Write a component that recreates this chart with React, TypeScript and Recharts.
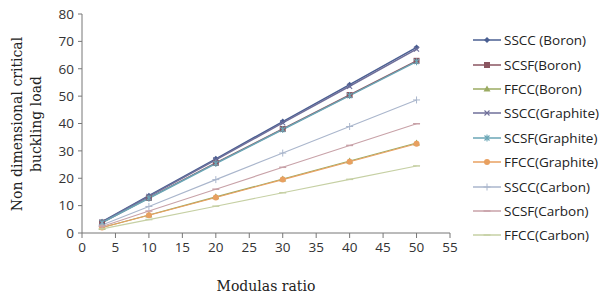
import { LineChart, Line, XAxis, YAxis, Label } from "recharts";

const ratios = [3, 10, 20, 30, 40, 50];

const ssccBoron = [4.1, 13.6, 27.1, 40.7, 54.2, 67.8];
const scsfBoron = [3.8, 12.8, 25.6, 38.0, 50.4, 62.9];
const ffccBoron = [2.0, 6.6, 13.2, 19.7, 26.3, 32.9];
const ssccGraphite = [4.0, 13.4, 26.7, 40.2, 53.6, 67.2];
const scsfGraphite = [3.8, 12.7, 25.4, 37.8, 50.2, 62.6];
const ffccGraphite = [2.0, 6.5, 13.0, 19.5, 26.0, 32.6];
const ssccCarbon = [2.9, 9.7, 19.5, 29.2, 38.9, 48.6];
const scsfCarbon = [2.4, 8.0, 16.0, 24.0, 32.0, 39.9];
const ffccCarbon = [1.5, 4.9, 9.8, 14.7, 19.6, 24.5];

const xTicks = [0, 5, 10, 15, 20, 25, 30, 35, 40, 45, 50, 55];
const yTicks = [0, 10, 20, 30, 40, 50, 60, 70, 80];

type Marker = "diamond" | "square" | "triangle" | "x" | "star" | "circle" | "plus" | "dash" | "none";

const series: { key: string; name: string; values: number[]; color: string; marker: Marker }[] = [
  { key: "sb", name: "SSCC (Boron)", values: ssccBoron, color: "#4a5f92", marker: "diamond" },
  { key: "fb", name: "SCSF(Boron)", values: scsfBoron, color: "#8a5560", marker: "square" },
  { key: "cb", name: "FFCC(Boron)", values: ffccBoron, color: "#9bab62", marker: "triangle" },
  { key: "sg", name: "SSCC(Graphite)", values: ssccGraphite, color: "#6f6f9a", marker: "x" },
  { key: "fg", name: "SCSF(Graphite)", values: scsfGraphite, color: "#6aa6b6", marker: "star" },
  { key: "cg", name: "FFCC(Graphite)", values: ffccGraphite, color: "#e8a060", marker: "circle" },
  { key: "sc", name: "SSCC(Carbon)", values: ssccCarbon, color: "#aab6cc", marker: "plus" },
  { key: "fc", name: "SCSF(Carbon)", values: scsfCarbon, color: "#c8a2a8", marker: "dash" },
  { key: "cc", name: "FFCC(Carbon)", values: ffccCarbon, color: "#c6d0a4", marker: "dash" },
];

const data = ratios.map((r, i) => {
  const row: Record<string, number> = { ratio: r };
  series.forEach((s) => (row[s.key] = s.values[i]));
  return row;
});

function markerShape(marker: Marker, color: string, cx: number, cy: number, k: string | number) {
  switch (marker) {
    case "diamond":
      return <path key={k} d={`M${cx},${cy - 3}L${cx + 3},${cy}L${cx},${cy + 3}L${cx - 3},${cy}Z`} fill={color} />;
    case "square":
      return <rect key={k} x={cx - 3} y={cy - 3} width={6} height={6} fill={color} />;
    case "triangle":
      return <path key={k} d={`M${cx},${cy - 3.5}L${cx + 3.5},${cy + 2.5}L${cx - 3.5},${cy + 2.5}Z`} fill={color} />;
    case "x":
      return (
        <path key={k} d={`M${cx - 2.5},${cy - 2.5}L${cx + 2.5},${cy + 2.5}M${cx + 2.5},${cy - 2.5}L${cx - 2.5},${cy + 2.5}`} stroke={color} strokeWidth={1.1} />
      );
    case "star":
      return (
        <path
          key={k}
          d={`M${cx - 2.5},${cy - 2.5}L${cx + 2.5},${cy + 2.5}M${cx + 2.5},${cy - 2.5}L${cx - 2.5},${cy + 2.5}M${cx},${cy - 3.5}L${cx},${cy + 3.5}`}
          stroke={color}
          strokeWidth={1.1}
        />
      );
    case "circle":
      return <circle key={k} cx={cx} cy={cy} r={3} fill={color} />;
    case "plus":
      return <path key={k} d={`M${cx - 3.5},${cy}L${cx + 3.5},${cy}M${cx},${cy - 3.5}L${cx},${cy + 3.5}`} stroke={color} strokeWidth={1} />;
    case "dash":
      return <path key={k} d={`M${cx - 3.5},${cy}L${cx + 3.5},${cy}`} stroke={color} strokeWidth={1.5} />;
    default:
      return <g key={k} />;
  }
}

const tickStyle = { fontSize: 13.5, fill: "#333", fontFamily: "'Open Sans', sans-serif" };
const serif = { fontSize: 14, fill: "#222", fontFamily: "'DejaVu Serif', serif" };

export default function App() {
  return (
    <div style={{ position: "fixed", left: 0, top: 0, width: 603, height: 297, background: "#fff" }}>
      <LineChart width={603} height={297} data={data} margin={{ top: 14, right: 153, bottom: 0, left: 0 }}>
        <XAxis
          dataKey="ratio"
          type="number"
          domain={[0, 55]}
          ticks={xTicks}
          interval={0}
          height={64}
          stroke="#777"
          tickSize={5}
          tick={tickStyle}
          tickMargin={4}
        >
          <Label value="Modulas ratio" position="insideBottom" offset={6} style={serif} />
        </XAxis>
        <YAxis
          type="number"
          domain={[0, 80]}
          ticks={yTicks}
          interval={0}
          width={82}
          stroke="#777"
          tickSize={4}
          tick={tickStyle}
          tickMargin={4}
        />
        <XAxis xAxisId="top" orientation="top" type="number" domain={[0, 55]} tick={false} height={0} stroke="#111" />
        <YAxis yAxisId="right" orientation="right" domain={[0, 80]} tick={false} width={0} stroke="#444" />
        {series.map((s) => (
          <Line
            key={s.key}
            dataKey={s.key}
            name={s.name}
            stroke={s.color}
            strokeWidth={s.key === "sb" || s.key === "fb" || s.key === "sg" || s.key === "fg" ? 1.5 : 1.1}
            isAnimationActive={false}
            dot={(p: any) => markerShape(s.marker, s.color, p.cx, p.cy, p.index)}
            activeDot={false}
          />
        ))}
        <text transform="translate(22,124) rotate(-90)" textAnchor="middle" style={serif}>
          Non dimensional critical
        </text>
        <text transform="translate(41,124) rotate(-90)" textAnchor="middle" style={serif}>
          buckling load
        </text>
      </LineChart>
      <div style={{ position: "absolute", left: 472, top: 28, fontFamily: "'Open Sans', sans-serif", fontSize: 13.5, color: "#222" }}>
        {series.map((s) => (
          <div key={s.key} style={{ display: "flex", alignItems: "center", height: 24.4 }}>
            <svg width={30} height={12} style={{ marginRight: 2 }}>
              <line x1={1} y1={6} x2={29} y2={6} stroke={s.color} strokeWidth={1.5} />
              {markerShape(s.marker, s.color, 15, 6, "m")}
            </svg>
            <span>{s.name}</span>
          </div>
        ))}
      </div>
    </div>
  );
}
